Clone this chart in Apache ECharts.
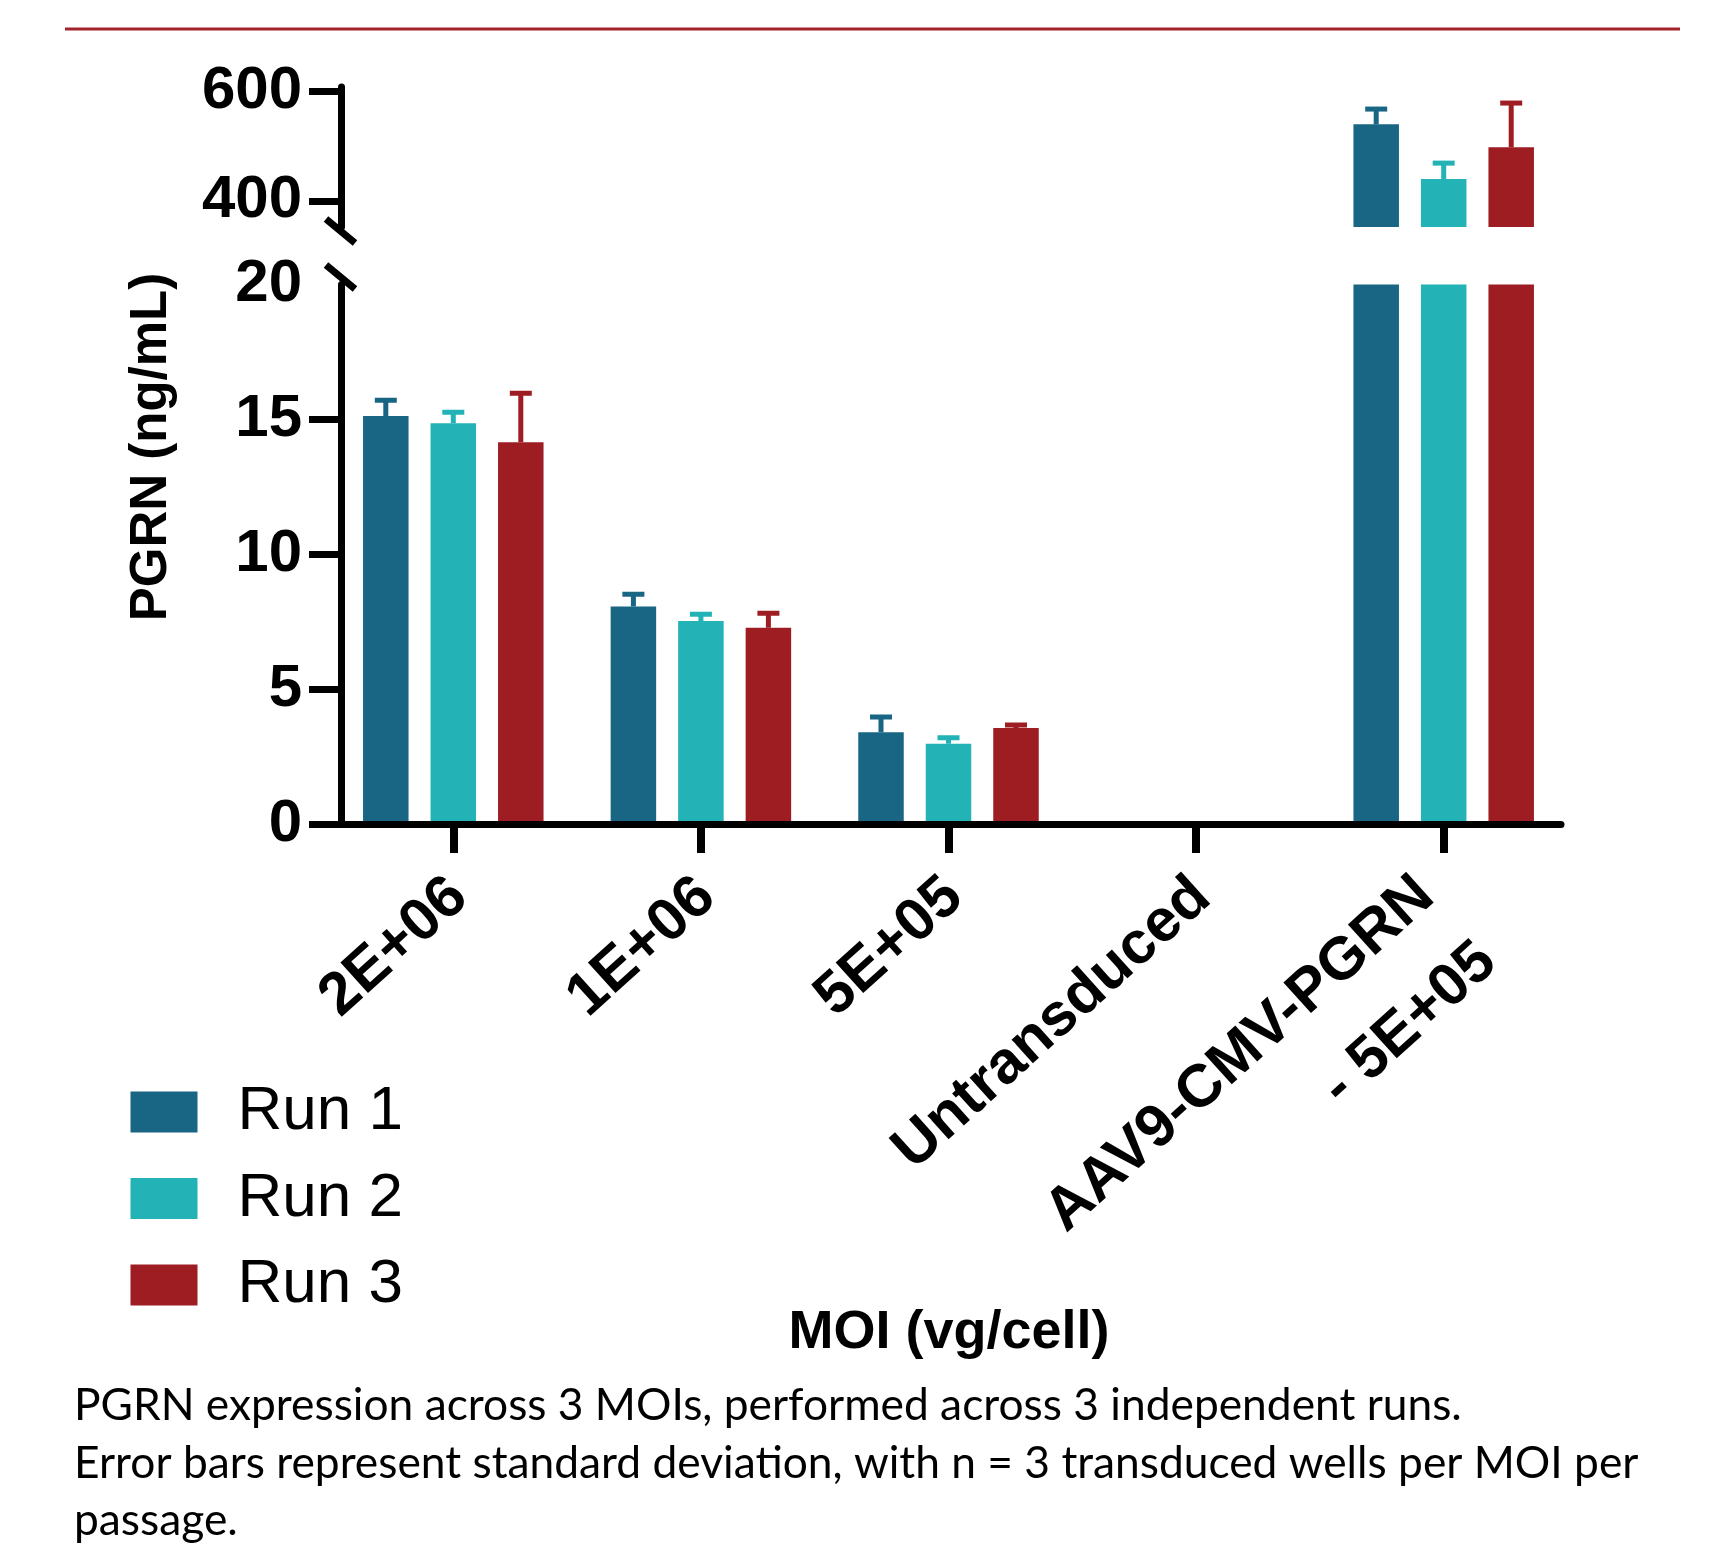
<!DOCTYPE html>
<html>
<head>
<meta charset="utf-8">
<script src="https://cdn.jsdelivr.net/npm/echarts@6/dist/echarts.min.js"></script>
<style>
html,body{margin:0;padding:0;background:#fff;}
#c{width:1730px;height:1545px;}
</style>
</head>
<body>
<div id="c"></div>
<script>
// ---------- data ----------
const categories = ['2E+06', '1E+06', '5E+05', 'Untransduced', 'AAV9-CMV-PGRN\n- 5E+05'];
const runNames = ['Run 1', 'Run 2', 'Run 3'];
const run1 = [15.13, 8.06, 3.40, 0, 540];
const run1Sd = [0.58, 0.46, 0.57, 0, 28];
const run2 = [14.86, 7.53, 2.98, 0, 440];
const run2Sd = [0.41, 0.25, 0.22, 0, 29];
const run3 = [14.15, 7.28, 3.56, 0, 498];
const run3Sd = [1.82, 0.53, 0.11, 0, 81];
const upperTicks = [400, 600];
const lowerTicks = [0, 5, 10, 15, 20];
const lowerTickMarks = [0, 5, 10, 15];
const xTitle = 'MOI (vg/cell)';
const yTitle = 'PGRN (ng/mL)';
const captionLines = [
  'PGRN expression across 3 MOIs, performed across 3 independent runs.',
  'Error bars represent standard deviation, with n = 3 transduced wells per MOI per',
  'passage.'
];

// ---------- styles / layout ----------
const colors = ['#186584', '#23b3b6', '#9e1d22'];
const FONT = '"Liberation Sans", Arial, Helvetica, sans-serif';
const BAR_W = 45.5, BAR_GAP = 22, STEP = BAR_W + BAR_GAP;
const ERR_W = 5, CAP = 22;
const BAR_LEFT = 329.5, BAR_SPAN = 1238;
const AX_LEFT = 341, AX_SPAN = 1220;
const UP_TOP = 87, UP_H = 140, UP_MIN = 352, UP_MAX = 608.4;
const LO_TOP = 284.6, LO_H = 539.4;
const AXW = 7;

const runs = [run1, run2, run3];
const sds = [run1Sd, run2Sd, run3Sd];

function errRender(i) {
  return function (params, api) {
    const sd = api.value(2);
    if (!(sd > 0)) return null;
    const v = api.value(1);
    const p0 = api.coord([api.value(0), v]);
    const p1 = api.coord([api.value(0), v + sd]);
    const x = p0[0] + (i - 1) * STEP;
    const st = { stroke: colors[i], lineWidth: ERR_W };
    return {
      type: 'group',
      children: [
        { type: 'line', shape: { x1: x, y1: p0[1], x2: x, y2: p1[1] }, style: st },
        { type: 'line', shape: { x1: x - CAP / 2, y1: p1[1], x2: x + CAP / 2, y2: p1[1] }, style: st }
      ]
    };
  };
}

const series = [];
[0, 1].forEach(function (g) {
  runs.forEach(function (vals, i) {
    series.push({
      type: 'bar', name: runNames[i], xAxisIndex: g, yAxisIndex: g,
      data: vals, barWidth: BAR_W, barGap: (BAR_GAP / BAR_W * 100) + '%',
      itemStyle: { color: colors[i] }, clip: true, z: 2, silent: true
    });
  });
});
[0, 1].forEach(function (g) {
  runs.forEach(function (vals, i) {
    series.push({
      type: 'custom', name: 'err' + g + i, xAxisIndex: g, yAxisIndex: g,
      data: categories.map(function (c, k) { return [k, vals[k], sds[i][k]]; }),
      encode: { x: 0, y: 1 }, renderItem: errRender(i), clip: true, z: 3, silent: true
    });
  });
});

function catFormatter(v) {
  const parts = v.split('\n');
  if (parts.length === 1) return '{s|' + v + '}';
  return '{a|' + parts[0] + '}\n{b|' + parts[1] + '}';
}
const catStyle = { fontSize: 60, fontWeight: 'bold', fontFamily: FONT, color: '#000' };
const tickStyle = { fontSize: 60, fontWeight: 'bold', fontFamily: FONT, color: '#000' };

const option = {
  backgroundColor: '#fff',
  animation: false,
  grid: [
    { left: BAR_LEFT, width: BAR_SPAN, top: UP_TOP, height: UP_H, outerBoundsMode: 'none' },
    { left: BAR_LEFT, width: BAR_SPAN, top: LO_TOP, height: LO_H, outerBoundsMode: 'none' },
    { left: AX_LEFT, width: AX_SPAN, top: UP_TOP, height: UP_H, outerBoundsMode: 'none' },
    { left: AX_LEFT, width: AX_SPAN, top: LO_TOP, height: LO_H, outerBoundsMode: 'none' }
  ],
  xAxis: [
    { type: 'category', gridIndex: 0, data: categories, show: false },
    {
      type: 'category', gridIndex: 1, data: categories, z: 10,
      axisLine: { show: false },
      axisTick: { show: true, alignWithLabel: true, length: 29, lineStyle: { color: '#000', width: 8 } },
      axisLabel: {
        interval: 0, rotate: 42, margin: 58, verticalAlign: 'middle', align: 'right',
        padding: [18, 0, 0, 0],
        formatter: catFormatter, color: '#000',
        rich: {
          s: Object.assign({ lineHeight: 60 }, catStyle),
          a: Object.assign({ lineHeight: 148, padding: [0, 17, 0, 0] }, catStyle),
          b: Object.assign({ lineHeight: 34, padding: [0, 15, 0, 0] }, catStyle)
        }
      }
    },
    { type: 'value', gridIndex: 2, min: 0, max: 1, show: false },
    {
      type: 'value', gridIndex: 3, min: 0, max: 1, z: 10,
      axisLine: { show: true, onZero: false, lineStyle: { color: '#000', width: AXW } },
      axisTick: { show: false }, axisLabel: { show: false }, splitLine: { show: false }
    }
  ],
  yAxis: [
    { type: 'value', gridIndex: 0, min: UP_MIN, max: UP_MAX, show: false },
    { type: 'value', gridIndex: 1, min: 0, max: 20, show: false },
    {
      type: 'value', gridIndex: 2, min: UP_MIN, max: UP_MAX, z: 10,
      axisLine: { show: true, onZero: false, lineStyle: { color: '#000', width: AXW } },
      axisTick: { show: true, customValues: upperTicks, length: 32, lineStyle: { color: '#000', width: AXW } },
      axisLabel: Object.assign({ customValues: upperTicks, margin: 39 }, tickStyle),
      splitLine: { show: false }
    },
    {
      type: 'value', gridIndex: 3, min: 0, max: 20, z: 10,
      axisLine: { show: true, onZero: false, lineStyle: { color: '#000', width: AXW } },
      axisTick: { show: true, customValues: lowerTickMarks, length: 32, lineStyle: { color: '#000', width: AXW } },
      axisLabel: Object.assign({ customValues: lowerTicks, margin: 39 }, tickStyle),
      splitLine: { show: false }
    }
  ],
  legend: {
    data: runNames, orient: 'vertical', left: 125.5, top: 1076,
    itemWidth: 67, itemHeight: 41, itemGap: 24.5, icon: 'rect', selectedMode: false,
    textStyle: { fontSize: 62, fontFamily: FONT, color: '#000', padding: [0, 0, 0, 35] }
  },
  graphic: [
    { type: 'line', silent: true, shape: { x1: 65, y1: 29, x2: 1680, y2: 29 }, style: { stroke: '#a3232b', lineWidth: 3 } },
    { type: 'line', silent: true, z: 20, shape: { x1: 326, y1: 219, x2: 355, y2: 243 }, style: { stroke: '#000', lineWidth: AXW } },
    { type: 'line', silent: true, z: 20, shape: { x1: 326, y1: 265, x2: 355, y2: 289 }, style: { stroke: '#000', lineWidth: AXW } },
    {
      type: 'text', silent: true, x: 949, y: 1333,
      style: { text: xTitle, font: 'bold 54px ' + FONT, fill: '#000', align: 'center', verticalAlign: 'middle', textAlign: 'center', textVerticalAlign: 'middle' }
    },
    {
      type: 'text', silent: true, x: 152, y: 447, rotation: Math.PI / 2,
      style: { text: yTitle, font: 'bold 51px ' + FONT, fill: '#000', align: 'center', verticalAlign: 'middle', textAlign: 'center', textVerticalAlign: 'middle' }
    }
  ].concat(captionLines.map(function (t, k) {
    return {
      type: 'text', silent: true, x: 74, y: 1406 + k * 57.5,
      style: { text: t, font: '44.3px Lato, "Open Sans", sans-serif', fill: '#000', align: 'left', verticalAlign: 'middle', textAlign: 'left', textVerticalAlign: 'middle' }
    };
  })),
  series: series
};

const chart = echarts.init(document.getElementById('c'), null, { renderer: 'canvas', width: 1730, height: 1545 });
chart.setOption(option);
</script>
</body>
</html>
